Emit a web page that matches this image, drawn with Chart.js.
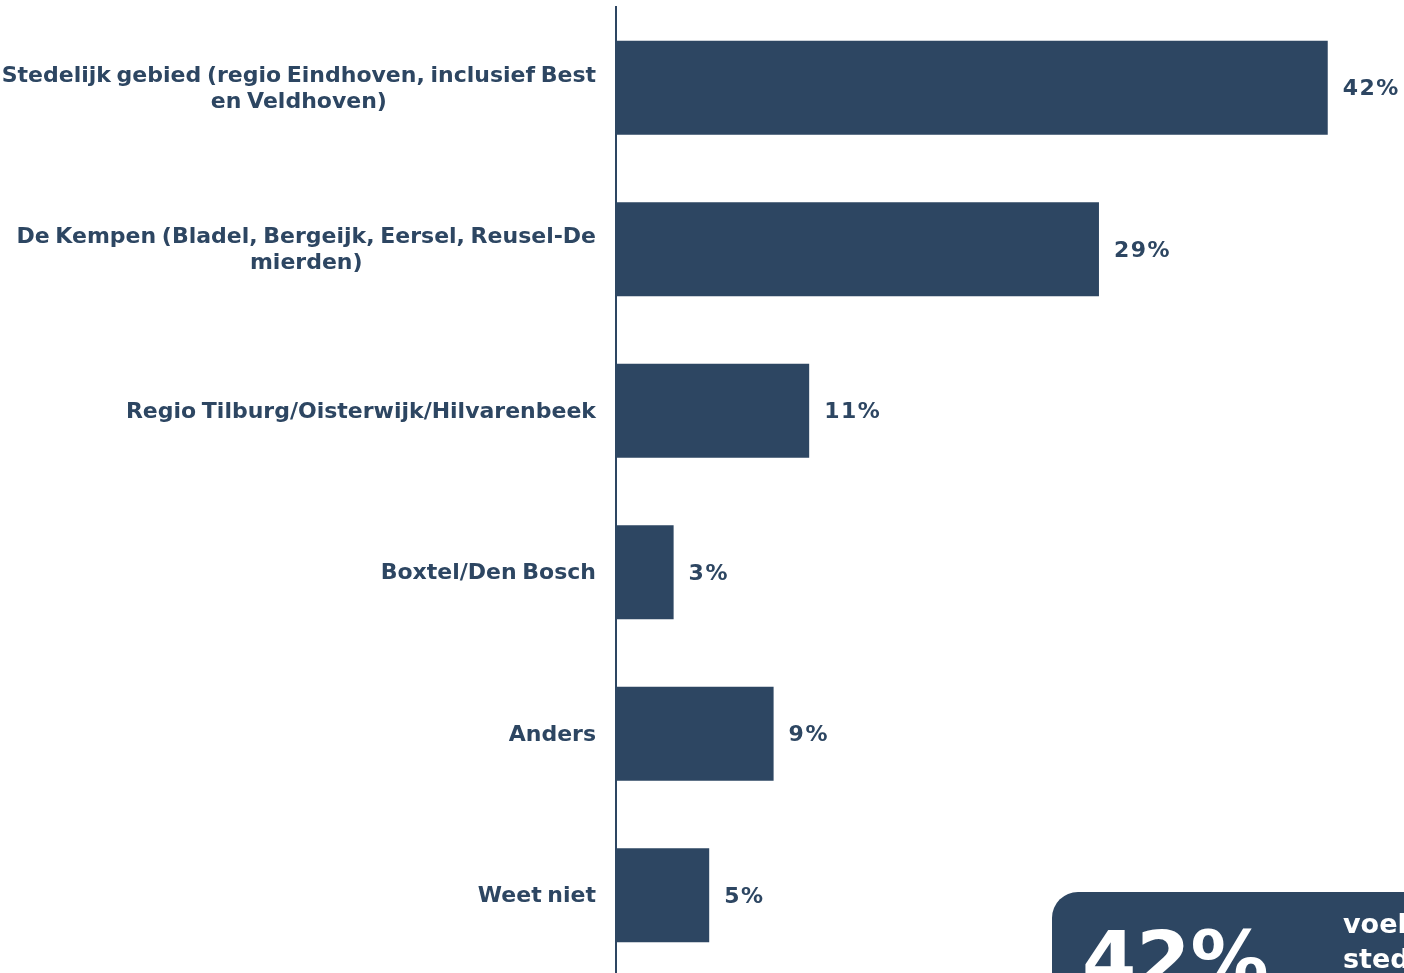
<!DOCTYPE html>
<html>
<head>
<meta charset="utf-8">
<script src="https://cdn.jsdelivr.net/npm/chart.js@4/dist/chart.umd.min.js"></script>
<style>
  html, body { margin: 0; padding: 0; background: #fff; overflow: hidden; }
  #wrap { width: 1404px; height: 973px; overflow: hidden; position: relative; }
  #box { width: 1404px; height: 976px; }
</style>
</head>
<body>
<div id="wrap"><div id="box"><canvas id="myChart"></canvas></div></div>
<script>
const categories = [
    ['Stedelijk gebied (regio Eindhoven, inclusief Best', 'en Veldhoven)'],
    ['De Kempen (Bladel, Bergeijk, Eersel, Reusel-De', 'mierden)'],
    'Regio Tilburg/Oisterwijk/Hilvarenbeek',
    'Boxtel/Den Bosch',
    'Anders',
    'Weet niet'
];
const values = [42, 28.5, 11.4, 3.4, 9.3, 5.5];
const valueLabels = ['42%', '29%', '11%', '3%', '9%', '5%'];
const navy = '#2d4662';
const font = "'DejaVu Sans', Verdana, sans-serif";

// category labels: block right-aligned, lines centred (like the original)
const categoryPlugin = {
    id: 'categoryLabels',
    afterDraw: (chart) => {
        const {ctx, chartArea} = chart;
        const y = chart.scales.y;
        ctx.save();
        ctx.fillStyle = navy;
        ctx.font = 'bold 22px ' + font;
        ctx.wordSpacing = '-2px';
        ctx.textAlign = 'center';
        ctx.textBaseline = 'middle';
        categories.forEach((label, i) => {
            const lines = Array.isArray(label) ? label : [label];
            const maxW = Math.max(...lines.map(l => ctx.measureText(l).width));
            const cx = chartArea.left - 20 - maxW / 2;
            const cy = y.getPixelForTick(i) + 1.5;
            lines.forEach((line, j) => {
                ctx.fillText(line, cx, cy + (j - (lines.length - 1) / 2) * 26);
            });
        });
        ctx.restore();
    }
};

const valuePlugin = {
    id: 'valueLabels',
    afterDatasetsDraw: (chart) => {
        const {ctx} = chart;
        const meta = chart.getDatasetMeta(0);
        ctx.save();
        ctx.fillStyle = navy;
        ctx.font = 'bold 22px ' + font;
        ctx.letterSpacing = '1.5px';
        ctx.textBaseline = 'middle';
        meta.data.forEach((bar, i) => {
            ctx.fillText(valueLabels[i], bar.x + 15, bar.y + 2);
        });
        ctx.restore();
    }
};

const calloutPlugin = {
    id: 'callout',
    afterDraw: (chart) => {
        const {ctx} = chart;
        ctx.save();
        ctx.fillStyle = navy;
        ctx.beginPath();
        ctx.roundRect(1052, 892, 420, 160, 26);
        ctx.fill();
        ctx.fillStyle = '#ffffff';
        ctx.font = 'bold 78px ' + font;
        ctx.textBaseline = 'alphabetic';
        ctx.fillText(valueLabels[0], 1082, 987);
        ctx.font = 'bold 27px ' + font;
        ctx.fillText('voelt zich thuis in', 1343, 933);
        ctx.fillText('stedelijk gebied', 1343, 968);
        ctx.restore();
    }
};

new Chart(document.getElementById('myChart'), {
    type: 'bar',
    data: {
        labels: categories,
        datasets: [{
            data: values,
            backgroundColor: navy,
            borderWidth: 0,
            barPercentage: 0.582,
            categoryPercentage: 1.0
        }]
    },
    options: {
        indexAxis: 'y',
        responsive: true,
        maintainAspectRatio: false,
        animation: false,
        layout: { padding: { top: 7, right: 0, bottom: 0, left: 0 } },
        plugins: {
            legend: { display: false },
            tooltip: { enabled: false }
        },
        scales: {
            x: {
                display: false,
                min: 0,
                max: 46.5
            },
            y: {
                afterFit: (scale) => {
                    scale.width = 616;
                    scale.paddingTop = 0;
                    scale.paddingBottom = 0;
                },
                grid: { display: false, drawTicks: false },
                border: { display: true, color: navy, width: 2 },
                ticks: { display: false }
            }
        }
    },
    plugins: [valuePlugin, categoryPlugin, calloutPlugin]
});
</script>
</body>
</html>
